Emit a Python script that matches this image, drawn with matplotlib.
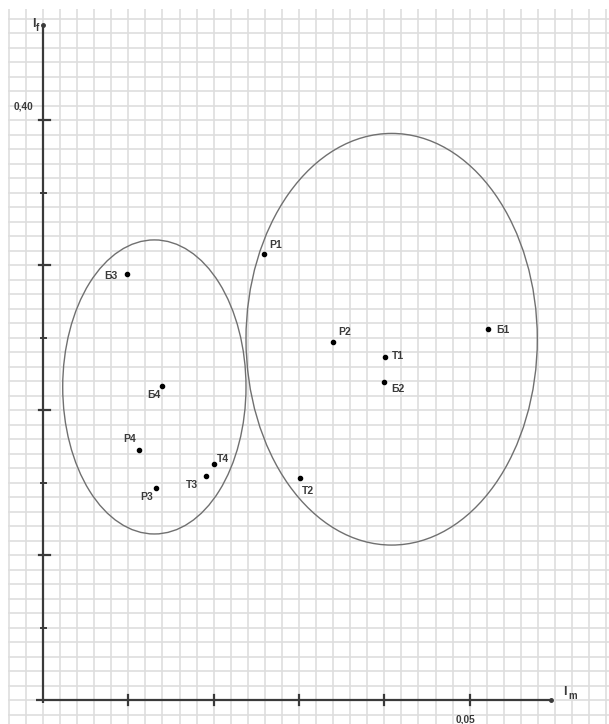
import matplotlib
matplotlib.use("Agg")
import matplotlib.pyplot as plt
from matplotlib.patches import Ellipse
import numpy as np

# ---- data ----
labels = ["Б1", "Б2", "Б3", "Б4", "Р1", "Р2", "Р3", "Р4", "Т1", "Т2", "Т3", "Т4"]
im_vals = [0.0522, 0.0400, 0.0099, 0.0140, 0.0259, 0.0340, 0.0132, 0.0112, 0.0401, 0.0301, 0.0191, 0.0200]
if_vals = [0.2561, 0.2195, 0.2936, 0.2166, 0.3074, 0.2471, 0.1460, 0.1724, 0.2368, 0.1529, 0.1547, 0.1626]

ellipse_cx = [0.01305, 0.04086]
ellipse_cy = [0.2159, 0.2488]
ellipse_w = [0.02148, 0.03414]
ellipse_h = [0.2028, 0.2839]

y_tick_label = "0,40"
x_tick_label = "0,05"

# label offsets in pixels (style)
offsets = {
    "Б1": (14, -1), "Б2": (14, -7), "Б3": (-17, -2), "Б4": (-9, -9),
    "Р1": (12, 9), "Р2": (12, 10), "Р3": (-9, -9), "Р4": (-9, 11),
    "Т1": (13, 1), "Т2": (8, -13), "Т3": (-14, -9), "Т4": (9, 5),
}

W, H = 609, 724
fig = plt.figure(figsize=(W / 100, H / 100), dpi=100)
ax = fig.add_axes([0, 0, 1, 1])
ax.set_axis_off()

# pixel mapping: origin at (43, 700); 0.01 in x = 85.33 px; 0.1 in y = 145 px
px_x = 0.01 / 85.33
px_y = 0.1 / 145.0
x0 = -43 * px_x
x1 = (W - 43) * px_x
y0 = -(H - 700) * px_y
y1 = 700 * px_y
ax.set_xlim(x0, x1)
ax.set_ylim(y0, y1)

# graph-paper grid
gc = "#dedede"
grid_left = -0.0041
grid_top = (700 - 9) * px_y
xs = np.arange(-0.004, x1 + 0.001, 0.002)
ys = np.arange(-0.01, grid_top - 0.005, 0.01)
ax.vlines(xs, y0, grid_top, colors=gc, lw=1.2, zorder=1)
ax.hlines(ys, grid_left, x1, colors=gc, lw=1.2, zorder=1)

# axes lines
ac = "#3a3a3a"
y_top = (700 - 25) * px_y
x_right = (551 - 43) * px_x
ax.plot([0, 0], [-3 * px_y, y_top], color=ac, lw=1.6, zorder=3, solid_capstyle="butt")
ax.plot([-7 * px_x, x_right], [0, 0], color=ac, lw=1.6, zorder=3, solid_capstyle="butt")
ax.plot([0], [y_top], "o", color=ac, ms=2.5, zorder=3)
ax.plot([x_right], [0], "o", color=ac, ms=2.5, zorder=3)

# y ticks
for k in range(1, 5):
    yv = k * 0.1
    ax.plot([-4.5 * px_x, 6.5 * px_x], [yv, yv], color=ac, lw=1.6, zorder=3)
for k in range(0, 4):
    yv = 0.05 + k * 0.1
    ax.plot([-2 * px_x, 3 * px_x], [yv, yv], color=ac, lw=1.4, zorder=3)
# x ticks
for k in range(1, 6):
    xv = k * 0.01
    ax.plot([xv, xv], [-5 * px_y, 5 * px_y], color=ac, lw=1.6, zorder=3)

tf = dict(family="Liberation Sans", fontweight="bold", color="#3a3a3a")
ax.text(-20 * px_x, (700 - 106) * px_y, y_tick_label, ha="center", va="center", fontsize=7.2, **tf)
ax.text((465 - 43) * px_x, (700 - 719) * px_y, x_tick_label, ha="center", va="center", fontsize=7.2, **tf)

# axis labels
ax.text((34 - 43) * px_x, (700 - 24) * px_y, "I", ha="center", va="center", fontsize=9, **tf)
ax.text((37.5 - 43) * px_x, (700 - 28) * px_y, "f", ha="center", va="center", fontsize=7, **tf)
ax.text((565 - 43) * px_x, (700 - 692) * px_y, "I", ha="center", va="center", fontsize=9, **tf)
ax.text((573 - 43) * px_x, (700 - 696) * px_y, "m", ha="center", va="center", fontsize=7, **tf)

# ellipses
for cx, cy, w, h in zip(ellipse_cx, ellipse_cy, ellipse_w, ellipse_h):
    ax.add_patch(Ellipse((cx, cy), w, h, fill=False, edgecolor="#707070", lw=1.0, zorder=4))

# points
ax.plot(im_vals, if_vals, "o", color="black", ms=3.0, zorder=5, ls="none")
for lab, xv, yv in zip(labels, im_vals, if_vals):
    ax.annotate(lab, (xv, yv), xytext=offsets[lab], textcoords="offset pixels",
                ha="center", va="center", fontsize=7.5, zorder=6, **tf)

fig.savefig("out.png", dpi=100)
